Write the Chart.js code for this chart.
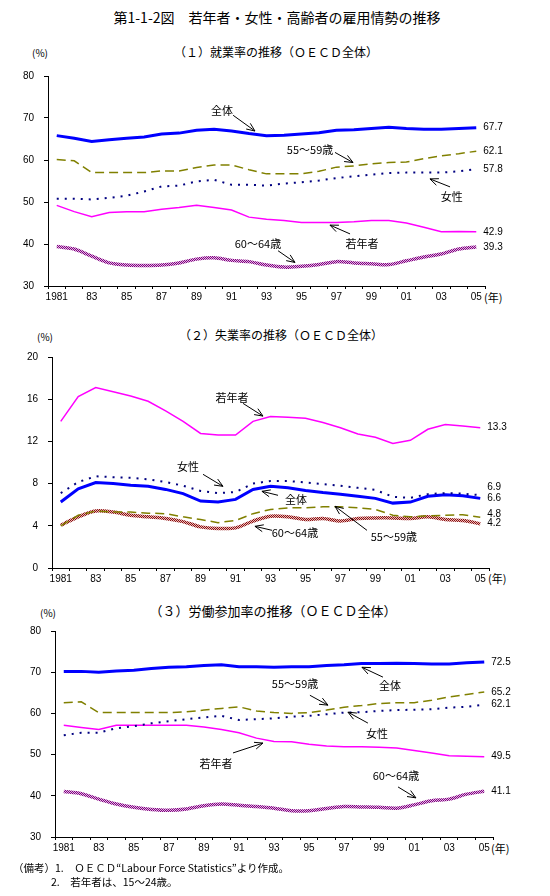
<!DOCTYPE html>
<html>
<head>
<meta charset="utf-8">
<script src="https://cdn.jsdelivr.net/npm/chart.js@4/dist/chart.umd.min.js"></script>
<style>
  body { margin: 0; background: #fff; width: 550px; height: 896px; position: relative; overflow: hidden;
         font-family: "Noto Sans CJK JP", sans-serif; color: #000; }
  .t { position: absolute; white-space: pre; line-height: 1; }
  .c { transform: translate(-50%, -50%); }
  .l { transform: translate(0, -50%); }
  canvas { position: absolute; left: 0; }
</style>
</head>
<body>
<div class="t c" style="left:277px;top:17px;font-size:14px">第1-1-2図　若年者・女性・高齢者の雇用情勢の推移</div>

<div class="t c" style="left:276px;top:52px;font-size:12px">（１）就業率の推移（ＯＥＣＤ全体）</div>
<div class="t l" style="left:32px;top:53px;font-size:10px">(%)</div>
<div class="t l" style="left:484px;top:297px;font-size:11px">(年)</div>
<canvas id="chart1" width="550" height="250" style="top:60px"></canvas>

<div class="t c" style="left:281px;top:335px;font-size:12px">（２）失業率の推移（ＯＥＣＤ全体）</div>
<div class="t l" style="left:37px;top:337px;font-size:10px">(%)</div>
<div class="t l" style="left:488px;top:578px;font-size:11px">(年)</div>
<canvas id="chart2" width="550" height="250" style="top:340px"></canvas>

<div class="t c" style="left:273px;top:610px;font-size:13px">（３）労働参加率の推移（ＯＥＣＤ全体）</div>
<div class="t l" style="left:40px;top:613px;font-size:10px">(%)</div>
<div class="t l" style="left:491px;top:848px;font-size:11px">(年)</div>
<canvas id="chart3" width="550" height="245" style="top:615px"></canvas>

<div class="t l" style="left:13px;top:868px;font-size:10.5px">（備考）1.　ＯＥＣＤ“Labour Force Statistics”より作成。</div>
<div class="t l" style="left:51px;top:882px;font-size:10.5px">2.　若年者は、15～24歳。</div>

<script>
// categories
const years = ['1981', '82', '83', '84', '85', '86', '87', '88', '89', '90', '91', '92', '93',
  '94', '95', '96', '97', '98', '99', '2000', '01', '02', '03', '04', '05'];
const tickLabels = ['1981', '83', '85', '87', '89', '91', '93', '95', '97', '99', '01', '03', '05'];

// (1) employment rate
const empTotal = [65.8, 65.2, 64.4, 64.8, 65.2, 65.5, 66.2, 66.4, 67.1, 67.3, 66.9, 66.3, 65.8,
  65.9, 66.2, 66.5, 67.1, 67.2, 67.5, 67.8, 67.5, 67.3, 67.3, 67.5, 67.7];
const emp5559 = [60.1, 59.8, 57.0, 57.0, 57.0, 57.0, 57.4, 57.4, 58.2, 58.8, 58.8, 57.7, 56.7,
  56.7, 56.7, 57.3, 58.3, 58.6, 59.1, 59.4, 59.5, 60.3, 61.0, 61.5, 62.1];
const empWomen = [50.8, 50.8, 50.6, 51.0, 51.5, 52.5, 53.7, 53.9, 54.9, 55.3, 54.1, 54.1, 53.9,
  54.4, 54.7, 55.1, 55.7, 56.1, 56.5, 56.9, 57.0, 57.0, 57.0, 57.3, 57.8];
const empYouth = [49.2, 47.7, 46.5, 47.5, 47.7, 47.7, 48.3, 48.7, 49.2, 48.7, 48.1, 46.4, 45.9,
  45.6, 45.1, 45.1, 45.1, 45.3, 45.6, 45.6, 45.0, 44.0, 42.9, 43.0, 42.9];
const emp6064 = [39.4, 38.8, 37.1, 35.5, 35.0, 34.9, 35.0, 35.5, 36.4, 36.7, 36.1, 35.8, 35.0,
  34.5, 34.7, 35.1, 35.8, 35.5, 35.3, 35.1, 36.0, 36.9, 37.6, 38.8, 39.3];

// (2) unemployment rate
const unYouth = [13.9, 16.25, 17.1, 16.7, 16.3, 15.8, 14.9, 13.9, 12.75, 12.6, 12.6, 13.9, 14.35,
  14.3, 14.2, 13.8, 13.3, 12.7, 12.4, 11.8, 12.1, 13.15, 13.6, 13.45, 13.3];
const unWomen = [7.1, 8.15, 8.7, 8.6, 8.55, 8.4, 8.15, 7.8, 7.3, 7.1, 7.2, 8.0, 8.25,
  8.25, 8.1, 7.95, 7.8, 7.6, 7.4, 6.75, 6.65, 7.0, 7.1, 7.05, 6.9];
const unTotal = [6.25, 7.5, 8.1, 8.0, 7.85, 7.75, 7.45, 7.05, 6.35, 6.25, 6.5, 7.45, 7.75,
  7.6, 7.35, 7.15, 7.0, 6.8, 6.6, 6.15, 6.25, 6.8, 6.95, 6.85, 6.6];
const un5559 = [4.0, 5.0, 5.4, 5.3, 5.3, 5.2, 5.15, 4.85, 4.6, 4.3, 4.5, 5.15, 5.55,
  5.7, 5.7, 5.8, 5.8, 5.7, 5.55, 5.0, 4.85, 4.95, 5.0, 5.05, 4.8];
const un6064 = [4.05, 4.85, 5.4, 5.3, 5.0, 4.85, 4.7, 4.4, 3.9, 3.75, 3.8, 4.45, 4.9,
  4.85, 4.6, 4.7, 4.45, 4.7, 4.75, 4.75, 4.7, 4.85, 4.6, 4.5, 4.2];

// (3) labour force participation rate
const lfTotal = [70.2, 70.2, 70.0, 70.3, 70.5, 70.9, 71.2, 71.3, 71.6, 71.8, 71.3, 71.3, 71.2,
  71.3, 71.3, 71.6, 71.8, 72.1, 72.1, 72.2, 72.1, 72.0, 72.0, 72.3, 72.5];
const lf5559 = [62.6, 62.8, 60.2, 60.2, 60.2, 60.2, 60.2, 60.4, 60.8, 61.2, 61.6, 60.6, 60.2,
  60.0, 60.2, 60.8, 61.5, 61.9, 62.4, 62.6, 62.6, 63.2, 64.0, 64.6, 65.2];
const lfWomen = [54.7, 55.3, 55.3, 56.4, 56.9, 57.6, 58.1, 58.6, 59.0, 59.4, 58.4, 58.6, 58.8,
  59.2, 59.4, 59.8, 60.2, 60.3, 60.6, 60.8, 60.9, 61.0, 61.4, 61.6, 62.1];
const lfYouth = [57.1, 56.6, 56.1, 57.1, 57.1, 57.1, 57.1, 57.1, 56.7, 56.1, 55.3, 54.0, 53.2,
  53.1, 52.5, 52.1, 51.9, 51.9, 51.8, 51.6, 51.0, 50.4, 49.7, 49.6, 49.5];
const lf6064 = [41.05, 40.5, 39.2, 38.0, 37.2, 36.7, 36.5, 36.8, 37.6, 38.0, 37.7, 37.4, 37.0,
  36.4, 36.4, 36.9, 37.4, 37.3, 37.2, 37.0, 37.8, 38.8, 39.2, 40.4, 41.1];

// checkered stroke like the old Excel pattern line
function checker(c1, c2) {
  const cv = document.createElement('canvas');
  cv.width = 2; cv.height = 2;
  const g = cv.getContext('2d');
  g.fillStyle = c2; g.fillRect(0, 0, 2, 2);
  g.fillStyle = c1; g.fillRect(0, 0, 1, 1); g.fillRect(1, 1, 1, 1);
  return g.createPattern(cv, 'repeat');
}

// end value labels + text notes with arrows
const marks = {
  id: 'marks',
  afterDatasetsDraw(chart, args, opts) {
    const { ctx } = chart;
    const x = chart.scales.x, y = chart.scales.y;
    ctx.save();
    ctx.fillStyle = '#000';
    ctx.strokeStyle = '#000';
    ctx.font = '10px "Liberation Sans", Arial, sans-serif';
    ctx.textAlign = 'left';
    ctx.textBaseline = 'middle';
    chart.data.datasets.forEach((ds, i) => {
      const last = ds.data.length - 1;
      const pt = chart.getDatasetMeta(i).data[last];
      ctx.fillText(ds.data[last].toFixed(1), pt.x + 7, pt.y + (ds.labelShift || 0));
    });

    ctx.font = '11px "Noto Sans CJK JP", sans-serif';
    ctx.textAlign = 'center';
    ctx.lineWidth = 1;
    (opts.notes || []).forEach(n => {
      ctx.fillText(n.text, x.getPixelForValue(n.at[0]), y.getPixelForValue(n.at[1]));
      const x1 = x.getPixelForValue(n.from[0]), y1 = y.getPixelForValue(n.from[1]);
      const x2 = x.getPixelForValue(n.to[0]), y2 = y.getPixelForValue(n.to[1]);
      const a = Math.atan2(y2 - y1, x2 - x1);
      ctx.beginPath();
      ctx.moveTo(x1, y1);
      ctx.lineTo(x2, y2);
      ctx.moveTo(x2 - 9 * Math.cos(a - 0.4), y2 - 9 * Math.sin(a - 0.4));
      ctx.lineTo(x2, y2);
      ctx.lineTo(x2 - 9 * Math.cos(a + 0.4), y2 - 9 * Math.sin(a + 0.4));
      ctx.stroke();
    });
    ctx.restore();
  }
};

Chart.defaults.font.family = '"Liberation Sans", Arial, sans-serif';
Chart.defaults.color = '#000';

function axes(min, max, step, yWidth, xHeight) {
  return {
    x: {
      offset: true,
      grid: { offset: true, drawOnChartArea: false, color: '#000', tickLength: 3 },
      border: { color: '#000' },
      ticks: {
        autoSkip: false, maxRotation: 0, padding: 2, font: { size: 10 },
        callback: (v, i) => (i % 2 === 0 ? tickLabels[i / 2] : '')
      },
      afterFit: s => { s.height = xHeight; }
    },
    y: {
      min: min, max: max,
      grid: { drawOnChartArea: false, color: '#000', tickLength: 4 },
      border: { color: '#000' },
      ticks: { stepSize: step, padding: 10, font: { size: 10 } },
      afterFit: s => { s.width = yWidth; }
    }
  };
}

function makeChart(id, sets, scaleArgs, pad, notes) {
  return new Chart(document.getElementById(id), {
    type: 'line',
    data: { labels: years, datasets: sets },
    options: {
      responsive: false,
      animation: false,
      layout: { padding: pad },
      elements: { point: { radius: 0 } },
      plugins: { legend: { display: false }, tooltip: { enabled: false }, marks: { notes: notes } },
      scales: axes(...scaleArgs)
    },
    plugins: [marks]
  });
}

function line(data, color, width, dash, tension, shift) {
  return { data: data, borderColor: color, borderWidth: width, borderDash: dash || [],
    tension: tension || 0, fill: false, labelShift: shift || 0 };
}

const purple = checker('#800080', '#e2b8e2');
const darkRed = checker('#8b1010', '#e8baba');

makeChart('chart1', [
  line(empTotal, '#0000ff', 3),
  line(emp5559, '#808000', 1.5, [9, 5]),
  line(empWomen, '#000080', 2, [2, 6]),
  line(empYouth, '#ff00ff', 1.5),
  line(emp6064, purple, 3.5, null, 0.3)
], [30, 80, 10, 48, 24], { top: 12, right: 65, left: 0, bottom: 0 }, [
  { text: '全体', at: [9.46, 71.8], from: [10.09, 70.65], to: [11.34, 66.9] },
  { text: '55～59歳', at: [14.49, 62.5], from: [15.92, 61.8], to: [16.95, 59.4] },
  { text: '女性', at: [22.6, 51.3], from: [22.5, 53.6], to: [21.35, 55.5] },
  { text: '若年者', at: [17.46, 40.05], from: [16.78, 42.4], to: [15.63, 44.5] },
  { text: '60～64歳', at: [11.51, 40.05], from: [12.66, 38.4], to: [13.63, 35.6] }
]);

makeChart('chart2', [
  line(unYouth, '#ff00ff', 1.5),
  line(unWomen, '#000080', 2, [2, 6], 0, -8),
  line(unTotal, '#0000ff', 3),
  line(un5559, '#808000', 1.5, [9, 5], 0, -3),
  line(un6064, darkRed, 3.5, null, 0.3)
], [0, 20, 4, 52, 22], { top: 17, right: 61, left: 0, bottom: 0 }, [
  { text: '若年者', at: [9.8, 16.1], from: [10.43, 15.6], to: [11.57, 14.4] },
  { text: '女性', at: [7.28, 9.55], from: [8.14, 8.88], to: [9.28, 7.74] },
  { text: '全体', at: [13.46, 6.51], from: [12.43, 6.89], to: [11.51, 7.27] },
  { text: '60～64歳', at: [13.4, 3.32], from: [12.09, 3.57], to: [11.11, 3.95] },
  { text: '55～59歳', at: [19.06, 3.0], from: [17.52, 3.57], to: [15.69, 5.85] }
]);

makeChart('chart3', [
  line(lfTotal, '#0000ff', 3),
  line(lf5559, '#808000', 1.5, [9, 5]),
  line(lfWomen, '#000080', 2, [2, 6]),
  line(lfYouth, '#ff00ff', 1.5),
  line(lf6064, purple, 3.5, null, 0.3)
], [30, 80, 10, 55, 23], { top: 16, right: 57, left: 0, bottom: 0 }, [
  { text: '全体', at: [18.62, 66.7], from: [18.22, 68.8], to: [17.02, 71.2] },
  { text: '55～59歳', at: [13.2, 67.1], from: [14.05, 64.4], to: [15.08, 62.0] },
  { text: '女性', at: [17.88, 55.0], from: [17.36, 57.65], to: [16.22, 60.3] },
  { text: '若年者', at: [8.69, 47.7], from: [9.66, 50.4], to: [11.37, 52.8] },
  { text: '60～64歳', at: [18.96, 44.9], from: [19.08, 42.15], to: [20.1, 39.5] }
]);
</script>
</body>
</html>
